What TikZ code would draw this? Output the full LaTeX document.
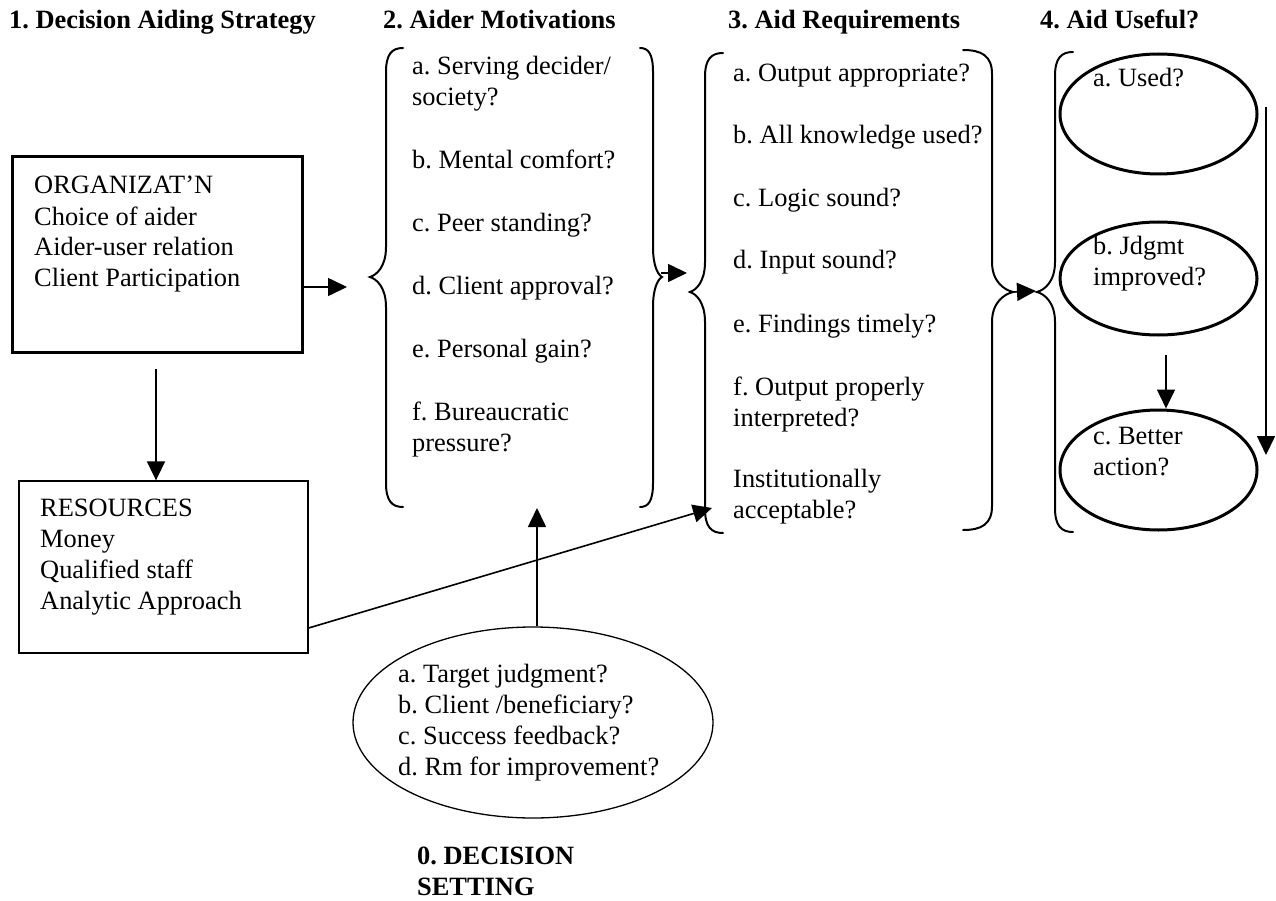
\documentclass[tikz,border=0pt]{standalone}
\usepackage{fontspec}
\setmainfont{Liberation Serif}
\usetikzlibrary{arrows.meta,shapes.geometric}
\frenchspacing
\newcommand{\mybrace}[6]{%
 \draw[brace] (#1,#4) .. controls ({#2+0.35*(#1-#2)},#4) and (#2,{#4+6}) .. (#2,{#4+24})
   -- (#2,{#5-30}) .. controls (#2,{#5-10}) and ({#3+0.4*(#2-#3)},{#5-2}) .. (#3,#5)
   .. controls ({#3+0.4*(#2-#3)},{#5+2}) and (#2,{#5+10}) .. (#2,{#5+30})
   -- (#2,{#6-24}) .. controls (#2,{#6-6}) and ({#2+0.35*(#1-#2)},#6) .. (#1,#6);}
\begin{document}
\frenchspacing
\begin{tikzpicture}[x=1pt,y=-1pt,
  txt/.style={inner sep=0pt, align=left, anchor=base west, font=\fontsize{26.4}{31}\selectfont\frenchspacing},
  ttl/.style={inner sep=0pt, anchor=base west, font=\fontsize{26.4}{31}\selectfont\bfseries\frenchspacing},
  arr/.style={line width=1.6pt, -{Triangle[length=19pt,width=18pt]}},
  brace/.style={line width=2pt, line cap=round},
  thickbox/.style={draw, line width=3pt, inner sep=0pt},
  thinbox/.style={draw, line width=1.3pt, inner sep=0pt},
  useell/.style={ellipse, draw, line width=3pt, inner sep=0pt, minimum width=197pt},
  setell/.style={ellipse, draw, line width=1.3pt, inner sep=0pt, minimum width=360pt, minimum height=191pt}]
\useasboundingbox (0,0) rectangle (1276,901);

% titles
\node[ttl] (t1) at (9,29) {1. Decision Aiding Strategy};
\node[ttl] (t2) at (383,29) {2. Aider Motivations};
\node[ttl] (t3) at (728,29) {3. Aid Requirements};
\node[ttl] (t4) at (1040,29) {4. Aid Useful?};

% column 1 (multi-line nodes are placed by the baseline of their last line)
\node[thickbox, minimum width=290pt, minimum height=195pt] (org) at (157,254.5) {};
\node[txt] (orgtxt) at (34,287) {ORGANIZAT’N\\Choice of aider\\Aider-user relation\\Client Participation};
\node[thinbox, minimum width=289pt, minimum height=172pt] (res) at (163.5,567) {};
\node[txt] (restxt) at (40,609) {RESOURCES\\Money\\Qualified staff\\Analytic Approach};

% column 2
\node[txt] (m1) at (412,106) {a. Serving decider/\\society?};
\node[txt] (m2) at (412,169) {b. Mental comfort?};
\node[txt] (m3) at (412,232) {c. Peer standing?};
\node[txt] (m4) at (412,294) {d. Client approval?};
\node[txt] (m5) at (412,357) {e. Personal gain?};
\node[txt] (m6) at (412,451) {f. Bureaucratic\\pressure?};
\mybrace{403}{386}{370}{48}{277}{507}
\mybrace{640}{653}{662}{48}{277}{507}

% column 3
\node[txt] (r1) at (733,82) {a. Output appropriate?};
\node[txt] (r2) at (733,144) {b. All knowledge used?};
\node[txt] (r3) at (733,207) {c. Logic sound?};
\node[txt] (r4) at (733,269) {d. Input sound?};
\node[txt] (r5) at (733,332) {e. Findings timely?};
\node[txt] (r6) at (733,426) {f. Output properly\\interpreted?};
\node[txt] (r7) at (733,518) {Institutionally\\acceptable?};
\mybrace{723}{705}{690}{53}{292}{533}
\mybrace{963}{992}{1013}{50}{292}{530}

% column 4
\mybrace{1073}{1055}{1037}{52}{292}{532}
\node[useell, minimum height=120pt] (ua) at (1158.5,114) {};
\node[useell, minimum height=113pt] (ub) at (1158.5,278.5) {};
\node[useell, minimum height=120pt] (uc) at (1158.5,470) {};
\node[txt] (uatxt) at (1093,87) {a. Used?};
\node[txt] (ubtxt) at (1093,285) {b. Jdgmt\\improved?};
\node[txt] (uctxt) at (1093,475) {c. Better\\action?};

% decision setting
\node[setell] (set) at (533,722.5) {};
\node[txt] (settxt) at (398,775) {a. Target judgment?\\b. Client /beneficiary?\\c. Success feedback?\\d. Rm for improvement?};
\node[txt, font=\fontsize{26.4}{31}\selectfont\bfseries\frenchspacing] (dset) at (417,895) {0. DECISION\\SETTING};

% connection points
\coordinate (orgarr) at (347,287);
\coordinate (mtipR) at (661,273);
\coordinate (rtipL) at (687,273);
\coordinate (rtipR) at (1013,292);
\coordinate (utipL) at (1036,291);
\coordinate (mbottom) at (537,508);
\coordinate (reqin) at (712,508);
\coordinate (bdown) at (1166,355);
\coordinate (rdtop) at (1266,107);
\coordinate (rdbot) at (1266,455);

% connectors
\draw[arr] (org.east |- orgarr) -- (orgarr);
\draw[arr, shorten <=15pt] (org.south -| 156,0) -- (res.north -| 156,0);
\draw[arr] ([yshift=-61pt]res.east) -- (reqin);
\draw[arr] (set.north -| mbottom) -- (mbottom);
\draw[arr] (mtipR) -- (rtipL);
\draw[arr] (rtipR) -- (utipL);
\draw[arr] (bdown) -- (uc.north -| bdown);
\draw[arr] (rdtop) -- (rdbot);
\end{tikzpicture}
\end{document}
